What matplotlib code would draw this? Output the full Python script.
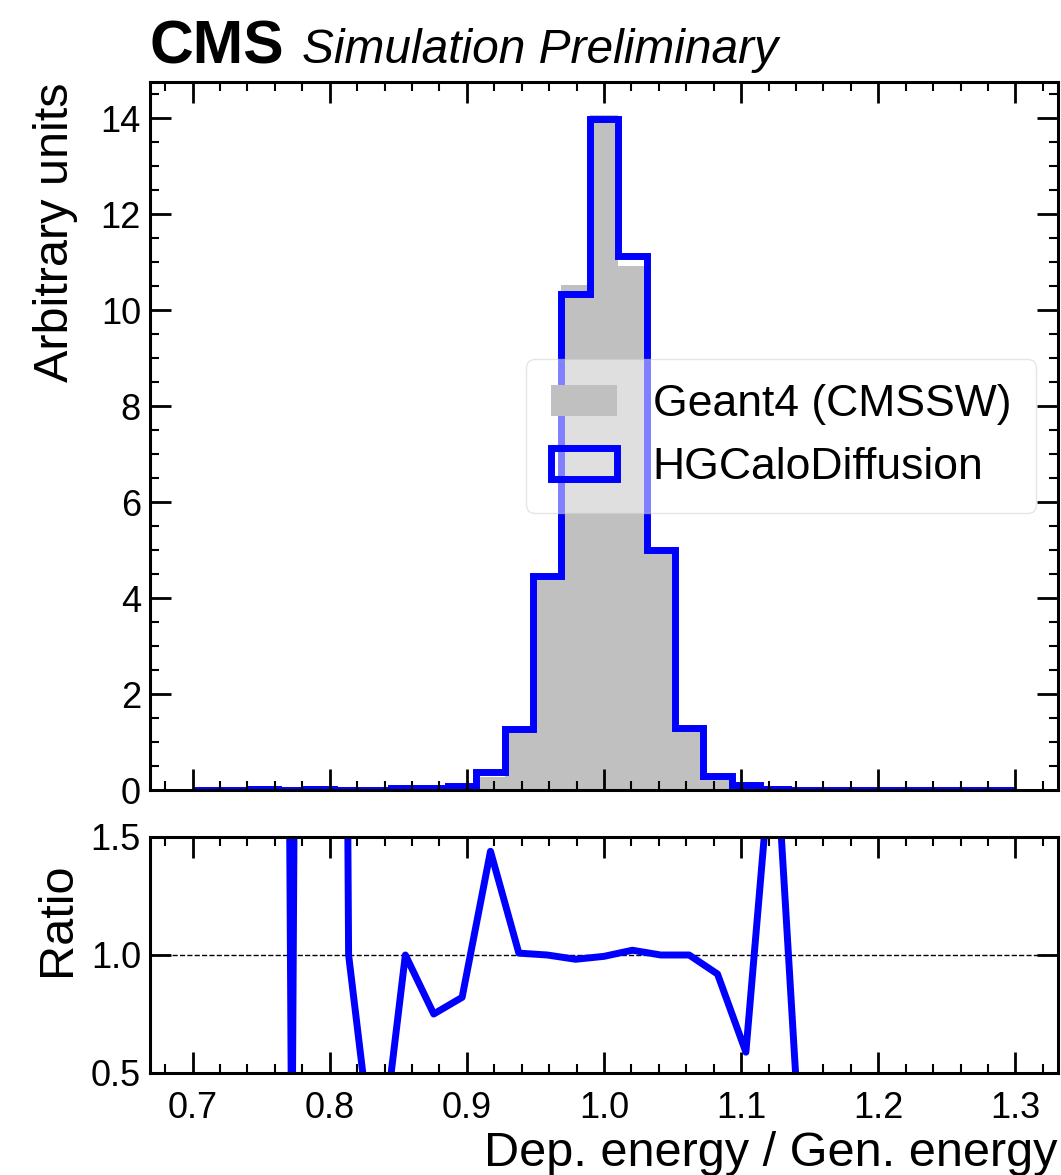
import numpy as np
import matplotlib
matplotlib.use("Agg")
import matplotlib.pyplot as plt
from matplotlib.patches import Patch
from matplotlib.ticker import MultipleLocator, NullLocator

plt.rcParams['font.family'] = ['Liberation Sans', 'DejaVu Sans']

# 29 equal bins between 0.7 and 1.3
bin_edges = np.linspace(0.7, 1.3, 30)

# normalised (density) histograms of deposited / generated energy
geant4 = [0.0, 0.0, 0.001, 0.002, 0.001, 0.005, 0.005, 0.045, 0.06, 0.0975,
          0.264, 1.27, 4.45, 10.52, 14.06, 10.91, 5.00, 1.30, 0.31, 0.17,
          0.01, 0.005, 0.0, 0.0, 0.0, 0.0, 0.0, 0.0, 0.0]
hgcalo = [0.0, 0.0, 0.02, 0.0, 0.02, 0.005, 0.0, 0.045, 0.045, 0.08,
          0.38, 1.28, 4.45, 10.33, 13.98, 11.13, 5.00, 1.30, 0.285, 0.10,
          0.02, 0.0, 0.0, 0.0, 0.0, 0.0, 0.0, 0.0, 0.0]

labels = ["Geant4 (CMSSW)", "HGCaloDiffusion"]
x_ticks = [0.7, 0.8, 0.9, 1.0, 1.1, 1.2, 1.3]

g4 = np.asarray(geant4)
hg = np.asarray(hgcalo)
centers = 0.5 * (bin_edges[1:] + bin_edges[:-1])
with np.errstate(divide="ignore", invalid="ignore"):
    ratio = np.where(g4 > 0, hg / np.where(g4 > 0, g4, 1.0), np.nan)

W, H = 1061, 1175
fig = plt.figure(figsize=(W / 100, H / 100), dpi=100)
ax = fig.add_axes([150 / W, 1 - 790 / H, 908 / W, 708 / H])
rax = fig.add_axes([150 / W, 1 - 1073 / H, 908 / W, 236 / H], sharex=ax)

# main panel
ax.stairs(g4, bin_edges, fill=True, color="#c0c0c0", label=labels[0])
ax.stairs(hg, bin_edges, color="#0000ff", linewidth=5, label=labels[1])
ax.set_ylim(0, 14.75)
ax.set_xlim(0.669, 1.331)

handles = [Patch(facecolor="#c0c0c0", edgecolor="none"),
           Patch(facecolor="none", edgecolor="#0000ff", linewidth=5)]
leg = ax.legend(handles, labels, loc="center right", fontsize=32,
                handlelength=1.5, handleheight=0.7, handletextpad=0.8,
                borderpad=0.55, labelspacing=0.5, framealpha=0.5,
                fancybox=True)

# ratio panel
rax.axhline(1.0, color="black", linestyle="--", linewidth=1.0, zorder=1)
rax.plot(centers, ratio, color="#0000ff", linewidth=5, zorder=2)
rax.set_ylim(0.5, 1.5)

for a in (ax, rax):
    for s in a.spines.values():
        s.set_linewidth(2.2)
    a.tick_params(which="both", direction="in", top=True, right=True)
    a.tick_params(which="major", length=15, width=2.0, labelsize=26)
    a.tick_params(which="minor", length=6.5, width=1.5)
    a.tick_params(axis="x", which="major", pad=13)
    a.tick_params(axis="y", which="major", pad=6.5)
    a.xaxis.set_minor_locator(MultipleLocator(0.02))

ax.set_xticks(x_ticks)
ax.yaxis.set_major_locator(MultipleLocator(2))
ax.yaxis.set_minor_locator(MultipleLocator(0.5))
ax.tick_params(labelbottom=False)
rax.set_yticks([0.5, 1.0, 1.5])
rax.yaxis.set_minor_locator(NullLocator())
rax.set_xticklabels([f"{t:.1f}" for t in x_ticks])

ax.set_ylabel("Arbitrary units", fontsize=35, loc="top")
ax.yaxis.set_label_coords(-0.0793, 1.0)
rax.set_ylabel("Ratio", fontsize=35, loc="top")
rax.yaxis.set_label_coords(-0.077, 0.89)
rax.set_xlabel("Dep. energy / Gen. energy", fontsize=35, loc="right")
rax.xaxis.set_label_coords(1.0, -0.245)

fig.text(150 / W, 1 - 63 / H, "CMS", fontsize=43.7, fontweight="bold",
         va="baseline", ha="left")
fig.text(302 / W, 1 - 63 / H, "Simulation Preliminary", fontsize=34.5,
         style="italic", va="baseline", ha="left")

fig.savefig("out.png", dpi=100)
